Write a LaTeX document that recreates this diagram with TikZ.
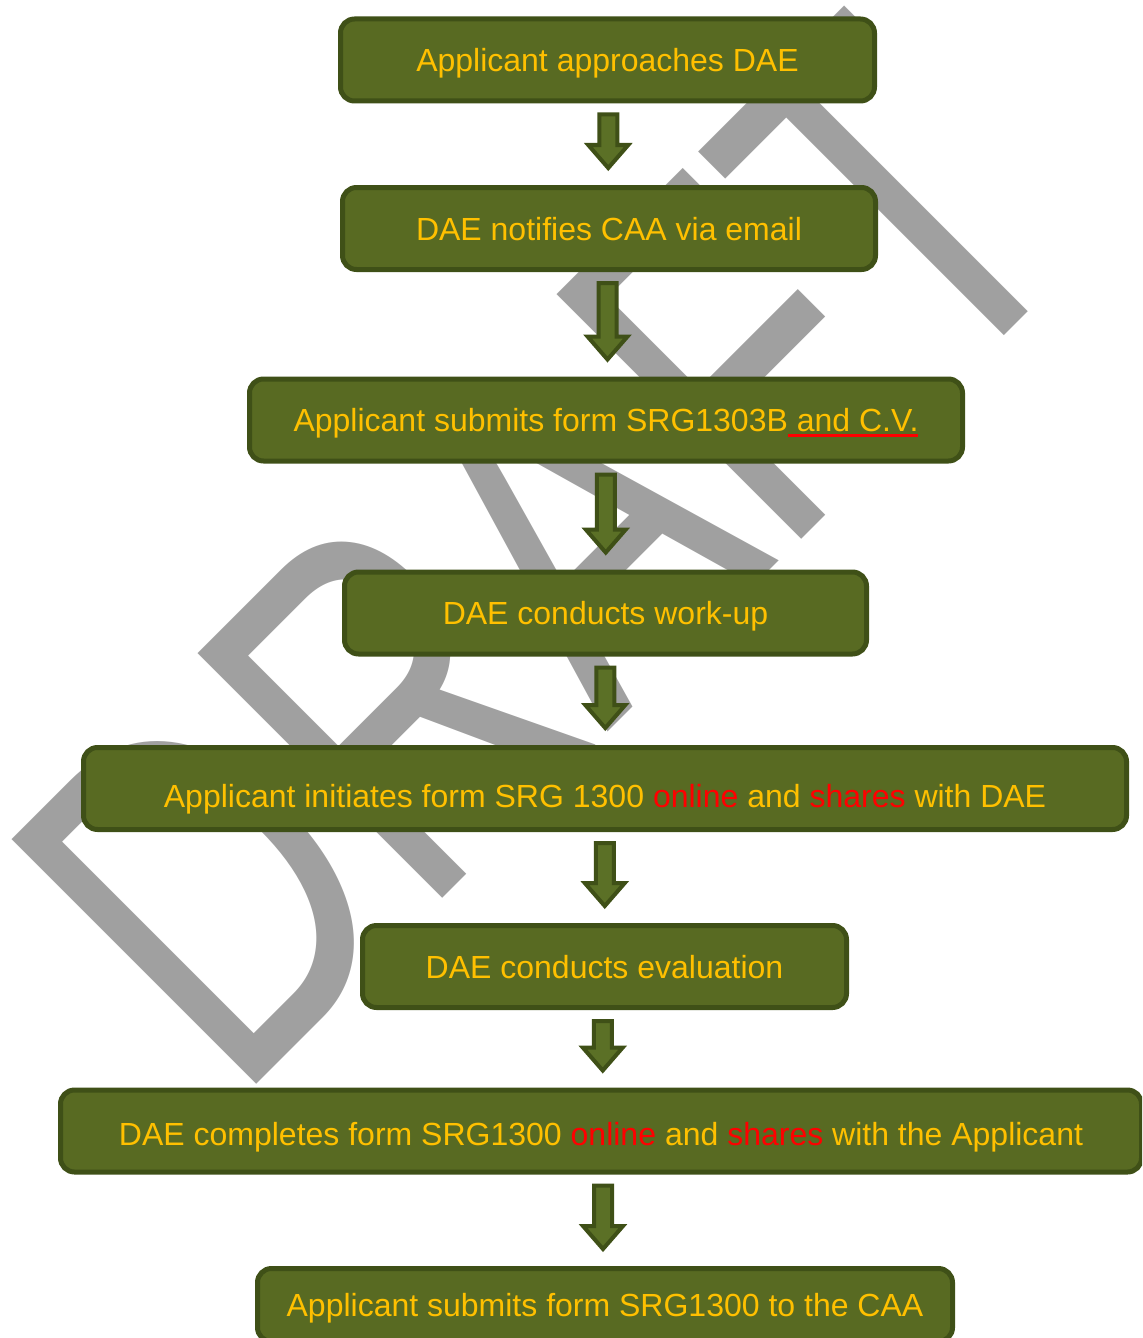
\documentclass[tikz,border=0pt]{standalone}
\usepackage{fontspec}
\usepackage{graphicx}
\setmainfont{Liberation Sans}
\newfontfamily\wmfont{Liberation Sans}
\usetikzlibrary{calc}

\definecolor{boxgreen}{HTML}{586A22}
\definecolor{boxedge}{HTML}{3F5017}
\definecolor{arrowgreen}{HTML}{5B7026}
\definecolor{labelgold}{HTML}{FFC000}
\definecolor{wmgray}{HTML}{A0A0A0}

\newcommand\redunder[1]{\setbox0\hbox{#1}\rlap{\color{red}\rule[-2.5pt]{\wd0}{1.5pt}}\box0}

\begin{document}
\begin{tikzpicture}[x=0.5pt, y=-0.5pt]
        \tikzstyle{stage}=[draw=boxedge, fill=boxgreen, line width=2.5pt, rounded corners=7pt, text=labelgold, font=\fontsize{16pt}{19pt}\selectfont, minimum height=41pt, inner sep=0pt, text height=11.5pt, text depth=0pt]
        \tikzstyle{watermark}=[rotate=45, inner sep=0pt, text=wmgray, font=\wmfont\fontsize{251.5pt}{251.5pt}\selectfont]
        \tikzstyle{flow}=[draw=boxedge, fill=arrowgreen, line width=2pt, line join=miter,
          to path={let \p1=(\tikztostart.south), \p2=(\tikztotarget.north), \n1={0.5*\x1+0.5*\x2} in
            (\n1-4.5pt,\y1-5.5pt) -- (\n1+4.5pt,\y1-5.5pt) -- (\n1+4.5pt,\y2+20pt) -- (\n1+10pt,\y2+20pt)
            -- (\n1,\y2+8.5pt) -- (\n1-10pt,\y2+20pt) -- (\n1-4.5pt,\y2+20pt) -- cycle}]

        \clip (0,0) rectangle (1142,1338);

        % watermark behind the chart
        \node[watermark](draft) at (543,553){\scalebox{0.726}[1]{DRAFT}};

        \node[stage, minimum width=267pt](approach) at (607.5,60){Applicant approaches DAE};
        \node[stage, minimum width=266.5pt](notify) at (609,228.5){DAE notifies CAA via email};
        \node[stage, minimum width=356.5pt](submit) at (606,420){Applicant submits form SRG1303B\redunder{ and C.V.}};
        \node[stage, minimum width=261pt](workup) at (605.5,613){DAE conducts work-up};
        \node[stage, minimum width=521.5pt, text height=18.5pt](initiate) at (605,788.5){Applicant initiates form SRG 1300 \textcolor{red}{online} and \textcolor{red}{shares} with DAE};
        \node[stage, minimum width=242pt](evaluate) at (604.5,966.5){DAE conducts evaluation};
        \node[stage, minimum width=540.5pt, text height=14pt](complete) at (601,1131){DAE completes form SRG1300 \textcolor{red}{online} and \textcolor{red}{shares} with the Applicant};
        \node[stage, minimum width=347.5pt, minimum height=36.5pt](final) at (605,1305){Applicant submits form SRG1300 to the CAA};

        \draw[flow] (approach) to (notify);
        \draw[flow] (notify) to (submit);
        \draw[flow] (submit) to (workup);
        \draw[flow] (workup) to (initiate);
        \draw[flow] (initiate) to (evaluate);
        \draw[flow] (evaluate) to (complete);
        \draw[flow] (complete) to (final);

\end{tikzpicture}
\end{document}
